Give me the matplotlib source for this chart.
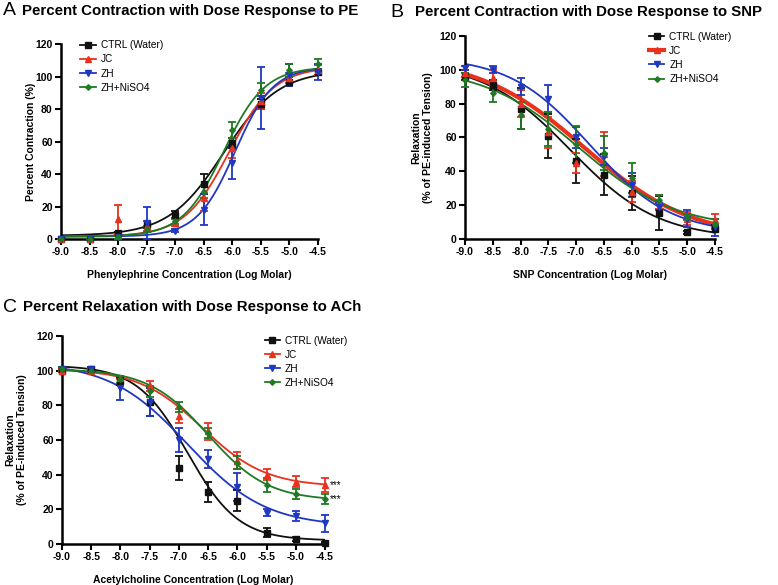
import numpy as np
import matplotlib
matplotlib.use("Agg")
import matplotlib.pyplot as plt

plt.rcParams["font.family"] = ["Liberation Sans", "DejaVu Sans"]

# === Données ===
log_dose = [-9.0, -8.5, -8.0, -7.5, -7.0, -6.5, -6.0, -5.5, -5.0, -4.5]
groups = ["CTRL (Water)", "JC", "ZH", "ZH+NiSO4"]

# Panel A : phenylephrine
pe_ctrl = [0, 0, 3.5, 9, 15, 34, 59, 83, 97, 103]
pe_jc = [0, 0, 12, 8, 10, 25, 56, 85, 99, 104]
pe_zh = [0, 0, 1, 10, 5, 18, 47, 87, 101, 103]
pe_ni = [0, 0, 1, 6, 11, 29, 67, 92, 104, 108]
pe_ctrl_err = [0, 0, 1, 2, 2, 6, 3, 3, 3, 2]
pe_jc_err = [0, 0, 9, 3, 2, 8, 6, 5, 3, 3]
pe_zh_err = [0, 0, 1, 10, 1, 9.5, 10, 19, 7, 5]
pe_ni_err = [0, 0, 1, 2, 2, 4, 5, 4, 4, 3]
# parametres des courbes ajustees : bottom, top, logEC50, hill
pe_fit_bottom = [2.0, 1.5, 1.5, 1.5]
pe_fit_top = [104, 106, 106, 106]
pe_fit_ec50 = [-6.15, -6.05, -5.95, -6.15]
pe_fit_hill = [0.9, 1.1, 1.3, 1.2]

# Panel B : SNP
snp_ctrl = [96, 91, 77, 61, 46, 38, 27, 15.5, 4, 6]
snp_jc = [98, 95, 80, 63, 45, 50, 28, 22, 12, 11]
snp_zh = [101, 100, 90, 83, 60, 49, 32, 19, 12, 7]
snp_ni = [94, 86, 73, 65, 56, 51, 36, 23, 13, 9]
snp_ctrl_err = [2, 3, 12, 13, 13, 12, 10, 10, 1, 2]
snp_jc_err = [2, 5, 8, 9, 6, 13, 6, 4, 4, 4]
snp_zh_err = [1, 2, 5, 8, 6, 5, 7, 2, 5, 5]
snp_ni_err = [4, 5, 8, 10, 11, 10, 9, 3, 2, 3]
snp_fit_bottom = [0, 0, 3, 6]
snp_fit_top = [105, 108, 108, 102]
snp_fit_ec50 = [-7.1, -6.85, -6.75, -6.95]
snp_fit_hill = [0.55, 0.45, 0.6, 0.5]

# Panel C : acetylcholine
ach_ctrl = [100, 101, 94, 82, 44, 30, 25, 6.5, 3, 0.5]
ach_jc = [100, 100, 96, 91, 74, 65, 48, 40, 36, 34]
ach_zh = [101, 101, 90, 82, 60, 49, 33, 18, 16, 12]
ach_ni = [101, 100, 95, 88, 79, 64, 47, 34, 29, 26]
ach_ctrl_err = [1, 1, 2, 8, 7, 6, 6, 2.5, 1, 0.5]
ach_jc_err = [1, 1, 1, 3, 4, 5, 5, 3, 3, 4]
ach_zh_err = [1, 1, 7, 8, 7, 5, 8, 2, 3, 5]
ach_ni_err = [1, 1, 2, 3, 3, 3, 4, 4, 3, 3]
ach_fit_bottom = [2, 33, 10, 25]
ach_fit_top = [103, 101, 105, 101]
ach_fit_ec50 = [-6.85, -6.6, -6.85, -6.5]
ach_fit_hill = [1.0, 0.8, 0.65, 0.85]

colors = ["#111111", "#e8321e", "#2038c0", "#1f7a24"]
markers = ["s", "^", "v", "D"]
msizes = [4.2, 4.2, 4.2, 2.8]


def sigmoid(x, bottom, top, ec50, hill):
    return bottom + (top - bottom) / (1 + 10 ** ((ec50 - x) * hill))


def draw_panel(ax, series, errs, fits, xlabel, ylabel, decreasing, ylab_x, thick_jc=False):
    xs = np.linspace(-9.0, -4.5, 300)
    bottoms, tops, ec50s, hills = fits
    handles = []
    for i, name in enumerate(groups):
        lw = 3.0 if (thick_jc and i == 1) else 1.3
        h = -hills[i] if decreasing else hills[i]
        ax.plot(xs, sigmoid(xs, bottoms[i], tops[i], ec50s[i], h),
                color=colors[i], lw=lw, zorder=2)
        ax.errorbar(log_dose, series[i], yerr=errs[i], fmt="none",
                    ecolor=colors[i], elinewidth=1.3, capsize=3, capthick=1.3,
                    zorder=3, clip_on=False)
        ax.plot(log_dose, series[i], linestyle="none", marker=markers[i],
                ms=msizes[i], color=colors[i], zorder=4, clip_on=False)
        hd, = ax.plot([], [], color=colors[i], lw=lw, marker=markers[i], ms=msizes[i])
        handles.append(hd)

    ax.set_xlim(-9.0, -4.5)
    ax.set_ylim(0, 120)
    ax.set_xticks(np.arange(-9.0, -4.49, 0.5))
    ax.set_xticklabels(["%.1f" % v for v in np.arange(-9.0, -4.49, 0.5)])
    ax.set_yticks(range(0, 121, 20))
    for s in ["top", "right"]:
        ax.spines[s].set_visible(False)
    for s in ["left", "bottom"]:
        ax.spines[s].set_linewidth(1.8)
    ax.tick_params(direction="out", length=4, width=1.5, labelsize=7.5, pad=2)
    for lab in ax.get_xticklabels() + ax.get_yticklabels():
        lab.set_fontweight("bold")
    ax.set_xlabel(xlabel, fontsize=7.5, fontweight="bold", labelpad=9)
    ax.set_ylabel(ylabel, fontsize=7.5, fontweight="bold")
    ax.yaxis.set_label_coords(ylab_x, 0.5)
    return handles


leg_kw = dict(loc="upper left", frameon=False, fontsize=7.3, handlelength=1.5,
              handletextpad=0.5, labelspacing=0.4, borderaxespad=0)

fig = plt.figure(figsize=(7.78, 5.85), dpi=100)

# === A ===
axA = fig.add_axes([0.0784, 0.5915, 0.330, 0.333])
hA = draw_panel(axA, [pe_ctrl, pe_jc, pe_zh, pe_ni],
                [pe_ctrl_err, pe_jc_err, pe_zh_err, pe_ni_err],
                (pe_fit_bottom, pe_fit_top, pe_fit_ec50, pe_fit_hill),
                "Phenylephrine Concentration (Log Molar)", "Percent Contraction (%)",
                decreasing=False, ylab_x=-0.097)
axA.legend(hA, groups, bbox_to_anchor=(0.06, 1.04), **leg_kw)

# === B ===
axB = fig.add_axes([0.5977, 0.5915, 0.3213, 0.347])
hB = draw_panel(axB, [snp_ctrl, snp_jc, snp_zh, snp_ni],
                [snp_ctrl_err, snp_jc_err, snp_zh_err, snp_ni_err],
                (snp_fit_bottom, snp_fit_top, snp_fit_ec50, snp_fit_hill),
                "SNP Concentration (Log Molar)", "Relaxation\n(% of PE-induced Tension)",
                decreasing=True, ylab_x=-0.128, thick_jc=True)
axB.legend(hB, groups, bbox_to_anchor=(0.72, 1.04), **leg_kw)

# === C ===
axC = fig.add_axes([0.0797, 0.0701, 0.338, 0.3556])
hC = draw_panel(axC, [ach_ctrl, ach_jc, ach_zh, ach_ni],
                [ach_ctrl_err, ach_jc_err, ach_zh_err, ach_ni_err],
                (ach_fit_bottom, ach_fit_top, ach_fit_ec50, ach_fit_hill),
                "Acetylcholine Concentration (Log Molar)", "Relaxation\n(% of PE-induced Tension)",
                decreasing=True, ylab_x=-0.133)
axC.legend(hC, groups, bbox_to_anchor=(0.755, 1.02), **leg_kw)
axC.text(-4.42, ach_jc[-1], "***", fontsize=7, va="center", ha="left")
axC.text(-4.42, ach_ni[-1], "***", fontsize=7, va="center", ha="left")

# === Titres ===
fig.text(0.004, 0.982, "A", fontsize=14, va="center", ha="left")
fig.text(0.028, 0.982, "Percent Contraction with Dose Response to PE",
         fontsize=10.8, fontweight="bold", va="center", ha="left")
fig.text(0.502, 0.979, "B", fontsize=14, va="center", ha="left")
fig.text(0.533, 0.979, "Percent Contraction with Dose Response to SNP",
         fontsize=10.8, fontweight="bold", va="center", ha="left")
fig.text(0.004, 0.475, "C", fontsize=14, va="center", ha="left")
fig.text(0.030, 0.475, "Percent Relaxation with Dose Response to ACh",
         fontsize=10.8, fontweight="bold", va="center", ha="left")

fig.savefig("out.png", dpi=100)
